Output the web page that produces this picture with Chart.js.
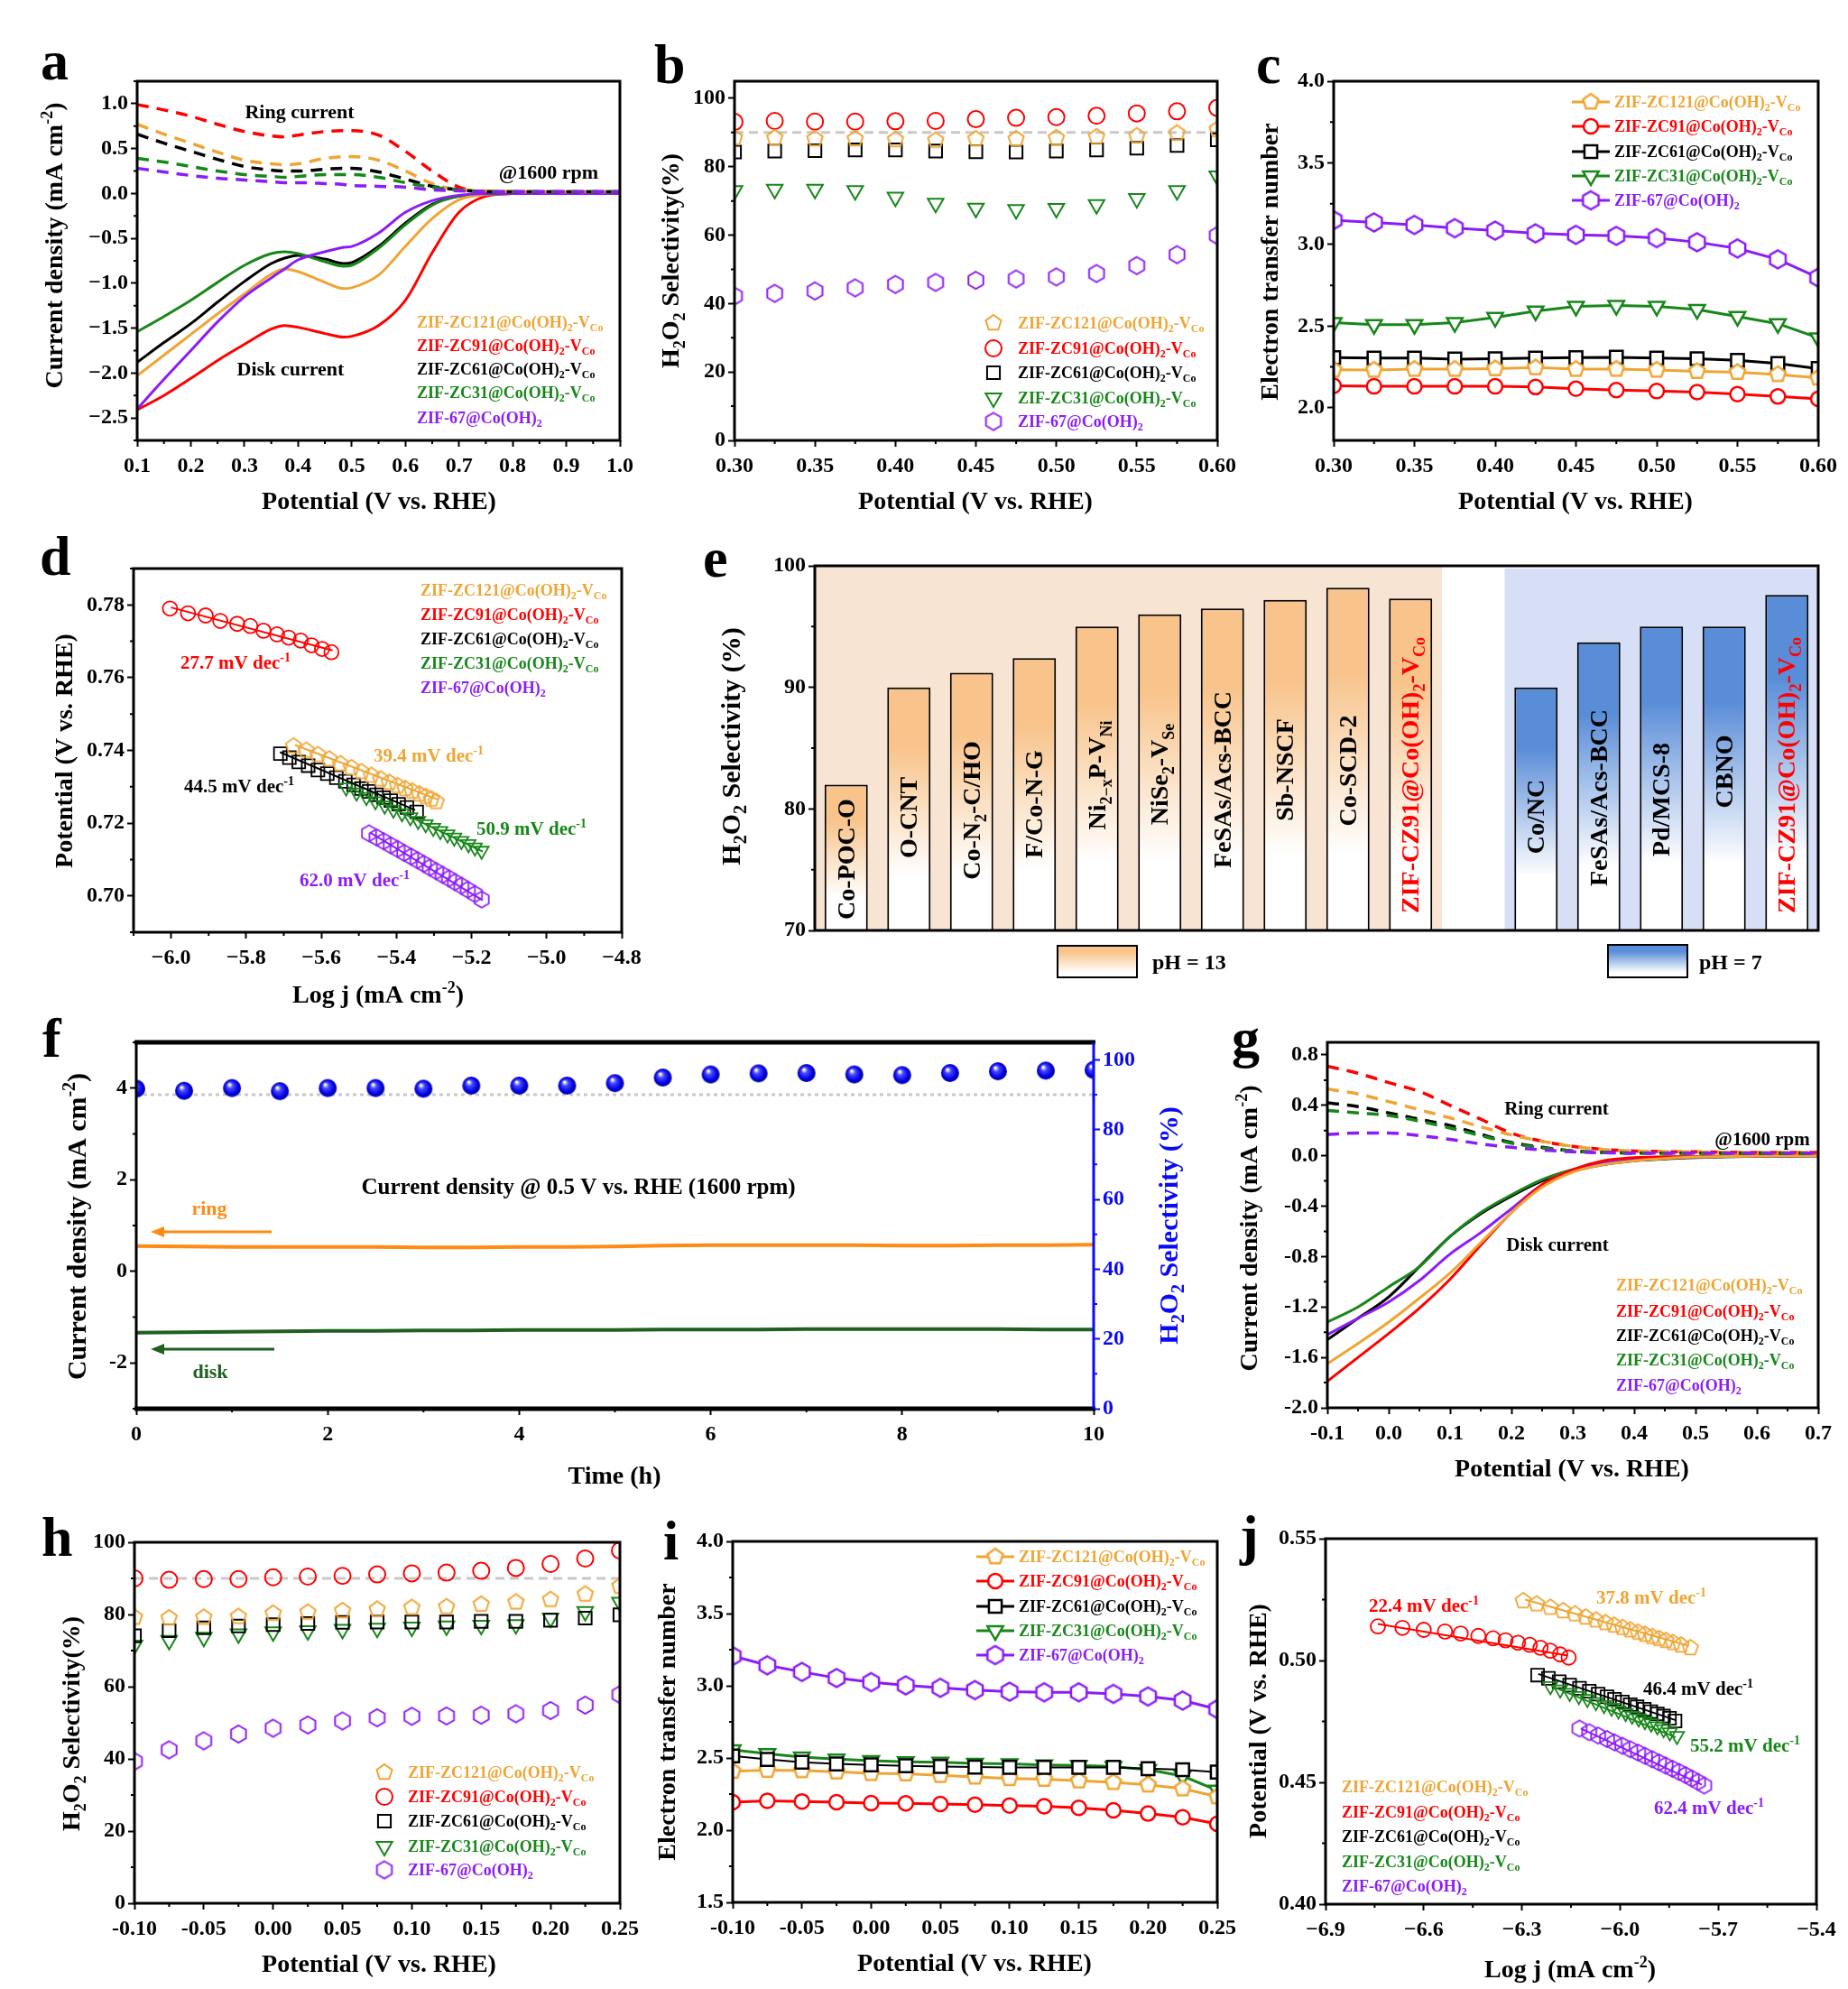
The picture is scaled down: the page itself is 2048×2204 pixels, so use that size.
<!DOCTYPE html>
<html>
<head>
<meta charset="utf-8">
<script src="https://cdn.jsdelivr.net/npm/chart.js@4.4.1/dist/chart.umd.min.js"></script>
<style>
  html,body{margin:0;padding:0;background:#fff;}
  #page{position:relative;width:2048px;height:2204px;overflow:hidden;background:#fff;}
  #page canvas{position:absolute;}
</style>
</head>
<body>
<div id="page"></div>
<script>
// ---------- series names (shared by all panels) ----------
const seriesNames = ['ZIF-ZC121@Co(OH)_2-V_{Co}','ZIF-ZC91@Co(OH)_2-V_{Co}','ZIF-ZC61@Co(OH)_2-V_{Co}','ZIF-ZC31@Co(OH)_2-V_{Co}','ZIF-67@Co(OH)_2'];

// ---------- a: RRDE curves, alkaline ----------
const aPotential = [0.1,0.15,0.2,0.25,0.3,0.35,0.375,0.4,0.45,0.485,0.5,0.55,0.6,0.65,0.7,0.75,0.8,0.9,1.0];
const aDisk121 = [-2.03,-1.80,-1.57,-1.34,-1.12,-0.90,-0.84,-0.87,-0.99,-1.06,-1.05,-0.91,-0.59,-0.28,-0.07,-0.01,0,0,0];
const aDisk91  = [-2.41,-2.25,-2.06,-1.86,-1.68,-1.51,-1.47,-1.49,-1.56,-1.60,-1.59,-1.47,-1.19,-0.66,-0.21,-0.03,0,0,0];
const aDisk61  = [-1.88,-1.66,-1.45,-1.21,-0.98,-0.78,-0.72,-0.69,-0.73,-0.78,-0.77,-0.59,-0.33,-0.12,-0.03,-0.01,0,0,0];
const aDisk31  = [-1.54,-1.37,-1.19,-0.99,-0.80,-0.67,-0.65,-0.67,-0.76,-0.81,-0.80,-0.61,-0.35,-0.13,-0.03,-0.01,0,0,0];
const aDisk67  = [-2.40,-2.07,-1.75,-1.43,-1.15,-0.94,-0.84,-0.74,-0.65,-0.60,-0.59,-0.44,-0.21,-0.08,-0.02,0,0,0,0];
const aRing121 = [0.77,0.66,0.56,0.46,0.37,0.33,0.32,0.33,0.39,0.41,0.41,0.37,0.25,0.11,0.04,0.03,0.02,0.02,0.02];
const aRing91  = [0.99,0.93,0.86,0.77,0.69,0.64,0.63,0.65,0.69,0.70,0.70,0.65,0.47,0.25,0.07,0.02,0.02,0.02,0.02];
const aRing61  = [0.66,0.56,0.47,0.38,0.30,0.26,0.25,0.25,0.27,0.28,0.28,0.24,0.16,0.08,0.04,0.02,0.02,0.02,0.02];
const aRing31  = [0.39,0.35,0.30,0.25,0.21,0.19,0.18,0.19,0.21,0.21,0.21,0.18,0.12,0.07,0.04,0.02,0.02,0.02,0.02];
const aRing67  = [0.28,0.24,0.20,0.17,0.15,0.13,0.12,0.12,0.11,0.10,0.09,0.08,0.07,0.04,0.03,0.02,0.02,0.02,0.02];
const aXTicks = [0.1,0.2,0.3,0.4,0.5,0.6,0.7,0.8,0.9,1.0];
const aYTicks = [-2.5,-2.0,-1.5,-1.0,-0.5,0.0,0.5,1.0];

// ---------- b: H2O2 selectivity, alkaline ----------
const bPotential = [0.3,0.325,0.35,0.375,0.4,0.425,0.45,0.475,0.5,0.525,0.55,0.575,0.6];
const bSel121 = [88.4,88.4,88.1,88.1,87.9,87.7,88.1,88.1,88.4,88.7,89.0,89.8,90.9];
const bSel91  = [93.1,93.4,93.2,93.2,93.3,93.4,93.9,94.3,94.5,94.9,95.6,96.2,97.2];
const bSel61  = [84.3,84.6,84.7,84.9,84.9,84.6,84.4,84.3,84.6,84.9,85.4,86.2,87.9];
const bSel31  = [73.0,73.4,73.4,73.0,71.1,69.3,67.9,67.5,67.8,68.9,70.7,73.0,77.3];
const bSel67  = [42.2,43.0,43.7,44.6,45.6,46.2,46.8,47.2,47.8,48.8,51.1,54.3,59.9];
const bXTicks = [0.30,0.35,0.40,0.45,0.50,0.55,0.60];
const bYTicks = [0,20,40,60,80,100];

// ---------- c: electron transfer number, alkaline ----------
const cPotential = [0.3,0.325,0.35,0.375,0.4,0.425,0.45,0.475,0.5,0.525,0.55,0.575,0.6];
const cN121 = [2.232,2.231,2.236,2.236,2.240,2.246,2.236,2.236,2.231,2.223,2.217,2.204,2.183];
const cN91  = [2.134,2.131,2.131,2.131,2.131,2.127,2.117,2.108,2.102,2.096,2.083,2.069,2.054];
const cN61  = [2.307,2.304,2.304,2.298,2.300,2.304,2.307,2.309,2.304,2.300,2.290,2.271,2.240];
const cN31  = [2.521,2.509,2.509,2.521,2.553,2.592,2.621,2.626,2.621,2.601,2.559,2.515,2.428];
const cN67  = [3.149,3.135,3.120,3.100,3.085,3.068,3.059,3.053,3.039,3.014,2.976,2.909,2.797];
const cXTicks = [0.30,0.35,0.40,0.45,0.50,0.55,0.60];
const cYTicks = [2.0,2.5,3.0,3.5,4.0];

// ---------- d: Tafel, alkaline ----------
const dLogJ121 = [-5.674,-5.640,-5.609,-5.579,-5.549,-5.520,-5.493,-5.467,-5.442,-5.419,-5.397,-5.377,-5.358,-5.339,-5.322,-5.307,-5.294];
const dE121    = [0.7412,0.7400,0.7388,0.7376,0.7363,0.7352,0.7341,0.7331,0.7321,0.7312,0.7303,0.7295,0.7288,0.7280,0.7273,0.7266,0.7259];
const dLogJ91  = [-6.003,-5.955,-5.908,-5.869,-5.824,-5.789,-5.754,-5.718,-5.687,-5.655,-5.626,-5.598,-5.573];
const dE91     = [0.7790,0.7777,0.7771,0.7756,0.7748,0.7742,0.7729,0.7719,0.7710,0.7702,0.7689,0.7679,0.7670];
const dLogJ61  = [-5.709,-5.685,-5.660,-5.635,-5.609,-5.584,-5.560,-5.536,-5.514,-5.493,-5.473,-5.453,-5.434,-5.415,-5.394,-5.372,-5.346];
const dE61     = [0.7391,0.7380,0.7368,0.7358,0.7346,0.7336,0.7325,0.7315,0.7305,0.7295,0.7287,0.7278,0.7270,0.7262,0.7252,0.7243,0.7231];
const dLogJ31  = [-5.534,-5.506,-5.480,-5.456,-5.431,-5.408,-5.385,-5.363,-5.342,-5.322,-5.302,-5.283,-5.264,-5.246,-5.227,-5.208,-5.191,-5.173];
const dE31     = [0.7298,0.7284,0.7272,0.7260,0.7248,0.7237,0.7227,0.7216,0.7206,0.7197,0.7187,0.7178,0.7169,0.7160,0.7151,0.7142,0.7133,0.7124];
const dLogJ67  = [-5.473,-5.453,-5.434,-5.415,-5.397,-5.379,-5.361,-5.344,-5.327,-5.311,-5.294,-5.277,-5.260,-5.244,-5.227,-5.210,-5.191,-5.173];
const dE67     = [0.7172,0.7161,0.7150,0.7139,0.7129,0.7118,0.7108,0.7098,0.7088,0.7078,0.7068,0.7058,0.7048,0.7038,0.7028,0.7017,0.7005,0.6990];
const dFitX121 = [-5.67,-5.29], dFitY121 = [0.7415,0.7265];
const dFitX91  = [-6.00,-5.57], dFitY91  = [0.7793,0.7675];
const dFitX61  = [-5.71,-5.35], dFitY61  = [0.7395,0.7236];
const dFitX31  = [-5.53,-5.17], dFitY31  = [0.7300,0.7122];
const dFitX67  = [-5.47,-5.17], dFitY67  = [0.7174,0.6988];
const dSlopes  = ['39.4 mV dec^{-1}','27.7 mV dec^{-1}','44.5 mV dec^{-1}','50.9 mV dec^{-1}','62.0 mV dec^{-1}'];
const dXTicks = [-6.0,-5.8,-5.6,-5.4,-5.2,-5.0,-4.8];
const dYTicks = [0.70,0.72,0.74,0.76,0.78];

// ---------- e: literature comparison ----------
const eCatalysts13 = ['Co-POC-O','O-CNT','Co-N_2-C/HO','F/Co-N-G','Ni_{2−x}P-V_{Ni}','NiSe_2-V_{Se}','FeSAs/Acs-BCC','Sb-NSCF','Co-SCD-2','ZIF-CZ91@Co(OH)_2-V_{Co}'];
const eSel13       = [82.0,90.0,91.2,92.4,95.0,96.0,96.5,97.2,98.2,97.3];
const eCatalysts7  = ['Co/NC','FeSAs/Acs-BCC','Pd/MCS-8','CBNO','ZIF-CZ91@Co(OH)_2-V_{Co}'];
const eSel7        = [90.0,93.7,95.0,95.0,97.6];
const eYTicks = [70,80,90,100];

// ---------- f: stability ----------
const fTime = [0,0.5,1,1.5,2,2.5,3,3.5,4,4.5,5,5.5,6,6.5,7,7.5,8,8.5,9,9.5,10];
const fSel  = [91.7,91.1,91.9,91.0,91.9,91.9,91.7,92.6,92.6,92.6,93.3,94.9,95.8,96.1,96.2,95.8,95.6,96.2,96.7,96.9,97.1];
const fRing = [0.55,0.54,0.53,0.53,0.53,0.53,0.52,0.52,0.53,0.53,0.54,0.56,0.57,0.57,0.57,0.57,0.56,0.56,0.57,0.57,0.58];
const fDisk = [-1.34,-1.33,-1.32,-1.31,-1.30,-1.30,-1.29,-1.29,-1.28,-1.28,-1.28,-1.27,-1.27,-1.27,-1.26,-1.26,-1.26,-1.26,-1.26,-1.27,-1.27];
const fXTicks = [0,2,4,6,8,10];
const fYTicks = [-2,0,2,4];
const fY2Ticks = [0,20,40,60,80,100];

// ---------- g: RRDE curves, neutral ----------
const gPotential = [-0.1,-0.05,0,0.05,0.1,0.15,0.2,0.25,0.3,0.35,0.4,0.45,0.5,0.55,0.6,0.65,0.7];
const gDisk121 = [-1.65,-1.49,-1.32,-1.13,-0.93,-0.69,-0.45,-0.25,-0.13,-0.07,-0.04,-0.022,-0.01,-0.006,-0.003,-0.001,0];
const gDisk91  = [-1.79,-1.60,-1.41,-1.21,-0.98,-0.71,-0.45,-0.23,-0.11,-0.04,-0.015,-0.008,-0.005,-0.003,-0.001,0,0];
const gDisk61  = [-1.46,-1.29,-1.12,-0.88,-0.64,-0.46,-0.32,-0.20,-0.12,-0.07,-0.04,-0.025,-0.015,-0.008,-0.005,-0.002,0];
const gDisk31  = [-1.32,-1.20,-1.04,-0.88,-0.64,-0.45,-0.31,-0.19,-0.11,-0.06,-0.034,-0.02,-0.012,-0.007,-0.004,-0.002,0];
const gDisk67  = [-1.42,-1.29,-1.16,-0.99,-0.78,-0.61,-0.42,-0.23,-0.12,-0.06,-0.03,-0.018,-0.01,-0.006,-0.003,-0.001,0];
const gRing121 = [0.53,0.49,0.43,0.365,0.30,0.23,0.165,0.115,0.075,0.05,0.038,0.033,0.031,0.028,0.026,0.026,0.026];
const gRing91  = [0.71,0.655,0.58,0.51,0.40,0.29,0.18,0.115,0.075,0.05,0.038,0.033,0.031,0.028,0.026,0.026,0.026];
const gRing61  = [0.42,0.39,0.34,0.29,0.24,0.17,0.105,0.067,0.038,0.026,0.021,0.021,0.021,0.021,0.021,0.021,0.021];
const gRing31  = [0.36,0.34,0.32,0.275,0.22,0.16,0.10,0.063,0.038,0.026,0.021,0.021,0.021,0.021,0.021,0.021,0.021];
const gRing67  = [0.17,0.18,0.18,0.16,0.13,0.094,0.067,0.046,0.031,0.024,0.021,0.021,0.021,0.021,0.021,0.021,0.021];
const gXTicks = [-0.1,0.0,0.1,0.2,0.3,0.4,0.5,0.6,0.7];
const gYTicks = [-2.0,-1.6,-1.2,-0.8,-0.4,0.0,0.4,0.8];

// ---------- h: H2O2 selectivity, neutral ----------
const hPotential = [-0.1,-0.075,-0.05,-0.025,0,0.025,0.05,0.075,0.1,0.125,0.15,0.175,0.2,0.225,0.25];
const hSel121 = [79.2,79.0,79.2,79.4,80.3,80.6,81.0,81.4,81.9,82.1,82.8,83.4,84.1,85.6,87.8];
const hSel91  = [90.0,89.6,89.8,89.8,90.3,90.5,90.7,91.1,91.4,91.6,92.1,92.9,94.0,95.5,97.7];
const hSel61  = [74.1,75.5,76.3,76.8,77.2,77.5,77.8,77.9,77.9,77.9,78.1,78.1,78.4,79.0,79.9];
const hSel31  = [71.5,72.8,73.7,74.6,75.2,75.5,75.9,76.2,76.5,76.8,77.0,77.2,79.0,80.8,83.4];
const hSel67  = [39.3,42.5,45.0,46.9,48.5,49.4,50.5,51.4,51.8,51.9,52.1,52.5,53.4,54.9,57.8];
const hXTicks = [-0.10,-0.05,0.00,0.05,0.10,0.15,0.20,0.25];
const hYTicks = [0,20,40,60,80,100];

// ---------- i: electron transfer number, neutral ----------
const iPotential = [-0.1,-0.075,-0.05,-0.025,0,0.025,0.05,0.075,0.1,0.125,0.15,0.175,0.2,0.225,0.25];
const iN121 = [2.408,2.415,2.413,2.404,2.393,2.391,2.380,2.369,2.358,2.353,2.342,2.331,2.314,2.287,2.232];
const iN91  = [2.194,2.203,2.199,2.194,2.188,2.186,2.181,2.177,2.170,2.166,2.155,2.137,2.115,2.089,2.044];
const iN61  = [2.514,2.490,2.470,2.459,2.452,2.446,2.441,2.437,2.435,2.435,2.435,2.435,2.426,2.419,2.402];
const iN31  = [2.556,2.530,2.507,2.492,2.481,2.474,2.470,2.463,2.459,2.452,2.448,2.441,2.419,2.375,2.276];
const iN67  = [3.206,3.142,3.096,3.054,3.025,3.003,2.986,2.970,2.959,2.955,2.955,2.944,2.926,2.898,2.838];
const iXTicks = [-0.10,-0.05,0.00,0.05,0.10,0.15,0.20,0.25];
const iYTicks = [1.5,2.0,2.5,3.0,3.5,4.0];

// ---------- j: Tafel, neutral ----------
const jLogJ121 = [-6.296,-6.255,-6.213,-6.174,-6.138,-6.105,-6.074,-6.045,-6.019,-5.993,-5.969,-5.945,-5.924,-5.902,-5.881,-5.860,-5.838,-5.814,-5.785];
const jE121    = [0.5245,0.5232,0.5218,0.5204,0.5191,0.5178,0.5166,0.5155,0.5145,0.5135,0.5125,0.5116,0.5107,0.5098,0.5090,0.5082,0.5073,0.5063,0.5052];
const jLogJ91  = [-6.740,-6.665,-6.600,-6.535,-6.487,-6.433,-6.388,-6.350,-6.312,-6.276,-6.243,-6.213,-6.183,-6.157];
const jE91     = [0.5140,0.5134,0.5126,0.5119,0.5111,0.5101,0.5091,0.5083,0.5073,0.5064,0.5052,0.5040,0.5025,0.5012];
const jLogJ61  = [-6.252,-6.219,-6.186,-6.154,-6.124,-6.094,-6.067,-6.040,-6.017,-5.993,-5.969,-5.948,-5.926,-5.906,-5.886,-5.867,-5.849,-5.832];
const jE61     = [0.4940,0.4927,0.4913,0.4899,0.4886,0.4874,0.4862,0.4851,0.4841,0.4830,0.4819,0.4810,0.4800,0.4790,0.4781,0.4772,0.4763,0.4752];
const jLogJ31  = [-6.213,-6.183,-6.154,-6.126,-6.100,-6.074,-6.049,-6.026,-6.005,-5.983,-5.963,-5.943,-5.924,-5.905,-5.886,-5.867,-5.848,-5.826];
const jE31     = [0.4895,0.4881,0.4867,0.4854,0.4842,0.4829,0.4817,0.4806,0.4795,0.4784,0.4773,0.4762,0.4751,0.4741,0.4730,0.4718,0.4705,0.4690];
const jLogJ67  = [-6.124,-6.094,-6.067,-6.040,-6.017,-5.993,-5.969,-5.945,-5.924,-5.902,-5.881,-5.861,-5.840,-5.820,-5.800,-5.781,-5.762,-5.743];
const jE67     = [0.4721,0.4706,0.4692,0.4678,0.4664,0.4650,0.4636,0.4622,0.4609,0.4595,0.4582,0.4569,0.4556,0.4543,0.4530,0.4516,0.4502,0.4487];
const jFitX121 = [-6.29,-5.79], jFitY121 = [0.5250,0.5060];
const jFitX91  = [-6.74,-6.16], jFitY91  = [0.5150,0.5020];
const jFitX61  = [-6.25,-5.83], jFitY61  = [0.4945,0.4755];
const jFitX31  = [-6.21,-5.83], jFitY31  = [0.4895,0.4685];
const jFitX67  = [-6.12,-5.75], jFitY67  = [0.4721,0.4490];
const jSlopes  = ['37.8 mV dec^{-1}','22.4 mV dec^{-1}','46.4 mV dec^{-1}','55.2 mV dec^{-1}','62.4 mV dec^{-1}'];
const jXTicks = [-6.9,-6.6,-6.3,-6.0,-5.7,-5.4];
const jYTicks = [0.40,0.45,0.50,0.55];

// ---------- styles ----------
const SERIF = '"Liberation Serif","Times New Roman",serif';
const C121='#EFA534', C91='#FF0000', C61='#000000', C31='#17871A', C67='#8B1CF7';
const seriesColors = [C121,C91,C61,C31,C67];
const DASH = [13,9];
const F_RING='#FF8A14', F_DISK='#1F5F1F', BLUE='#0A0AF5';
const E13_TOP='#F8C48C', E13_BG='#F8E4D3', E7_TOP='#5A8DD8', E7_BG='#D6DFF5';
// vertical centre (page px) of each rotated bar label in panel e, gap slot included
const eLabelMid = [952,906,898,891,859,858,864,853,854,859,0,905,884,886,855,859];
const page = document.getElementById('page');

// ---------- rich text (sub/superscripts) ----------
function parseRich(s){
  const out=[]; let i=0, buf='';
  const push=(t,m)=>{ if(t) out.push({t,m}); };
  while(i<s.length){
    const c=s[i];
    if((c==='_'||c==='^') && i+1<s.length){
      push(buf,0); buf='';
      const m = c==='_'?1:2;
      if(s[i+1]==='{'){ const j=s.indexOf('}',i+2); push(s.slice(i+2,j),m); i=j+1; }
      else { push(s[i+1],m); i+=2; }
    } else { buf+=c; i++; }
  }
  push(buf,0);
  return out;
}
function drawRich(ctx,s,x,y,o){
  const size=o.size||20, wt=o.weight||'bold';
  const parts=parseRich(s);
  const fontOf=m=>`${wt} ${m?Math.round(size*0.65):size}px ${SERIF}`;
  let w=0;
  parts.forEach(p=>{ ctx.font=fontOf(p.m); p.w=ctx.measureText(p.t).width; w+=p.w; });
  let cx = o.align==='center'? x-w/2 : (o.align==='right'? x-w : x);
  const base = o.base? y : y+size*0.33;
  ctx.fillStyle=o.color||'#000'; ctx.textAlign='left'; ctx.textBaseline='alphabetic';
  parts.forEach(p=>{
    ctx.font=fontOf(p.m);
    const dy = p.m===1? size*0.24 : (p.m===2? -size*0.4 : 0);
    ctx.fillText(p.t,cx,base+dy); cx+=p.w;
  });
  return w;
}

// ---------- markers ----------
function polyImg(n,r,color,fill,lw){
  const s=Math.ceil(2*r+lw+2), c=document.createElement('canvas'); c.width=c.height=s;
  const g=c.getContext('2d'); g.beginPath();
  for(let k=0;k<n;k++){ const a=-Math.PI/2+k*2*Math.PI/n; const px=s/2+r*Math.cos(a), py=s/2+r*Math.sin(a); k?g.lineTo(px,py):g.moveTo(px,py); }
  g.closePath();
  if(fill){ g.fillStyle=fill; g.fill(); }
  g.strokeStyle=color; g.lineWidth=lw; g.stroke();
  return c;
}
function sphereImg(r){
  const s=2*r+2, c=document.createElement('canvas'); c.width=c.height=s;
  const g=c.getContext('2d');
  const gr=g.createRadialGradient(s/2-r*0.3,s/2-r*0.4,r*0.08,s/2,s/2,r);
  gr.addColorStop(0,'#ffffff'); gr.addColorStop(0.28,'#4a4aff'); gr.addColorStop(0.75,'#0000e6'); gr.addColorStop(1,'#00009a');
  g.fillStyle=gr; g.beginPath(); g.arc(s/2,s/2,r,0,Math.PI*2); g.fill();
  return c;
}
function marker(kind,color,r,fill,lw){
  const m={kind,color,r,fill:fill||'rgba(0,0,0,0)',lw:lw||2};
  if(kind==='pent') m.img=polyImg(5,r,color,fill,m.lw);
  if(kind==='hex') m.img=polyImg(6,r,color,fill,m.lw);
  return m;
}
function markerSet(rs,fill,lw){
  const kinds=['pent','circle','square','tri','hex'];
  return kinds.map((k,i)=>marker(k,seriesColors[i],rs[i],fill,lw));
}
function pointOpts(m){
  const o={pointRadius:m.r,pointBorderColor:m.color,pointBackgroundColor:m.fill,pointBorderWidth:m.lw,pointRotation:0};
  if(m.img) o.pointStyle=m.img;
  else if(m.kind==='square') o.pointStyle='rect';
  else if(m.kind==='tri'){ o.pointStyle='triangle'; o.pointRotation=180; }
  else o.pointStyle='circle';
  return o;
}
function drawMarker(ctx,m,x,y){
  if(m.img){ ctx.drawImage(m.img,x-m.img.width/2,y-m.img.height/2); return; }
  ctx.beginPath();
  if(m.kind==='circle') ctx.arc(x,y,m.r,0,Math.PI*2);
  else if(m.kind==='square'){ const h=m.r*Math.SQRT1_2; ctx.rect(x-h,y-h,2*h,2*h); }
  else if(m.kind==='tri'){ const r=m.r; ctx.moveTo(x,y+r); ctx.lineTo(x-r*0.866,y-r/2); ctx.lineTo(x+r*0.866,y-r/2); ctx.closePath(); }
  ctx.fillStyle=m.fill; ctx.fill(); ctx.strokeStyle=m.color; ctx.lineWidth=m.lw; ctx.stroke();
}

// ---------- datasets ----------
const xy=(xs,ys)=>xs.map((x,i)=>({x,y:ys[i]}));
function curveDs(xs,ys,color,dash,lw){
  return {data:xy(xs,ys),showLine:true,borderColor:color,borderWidth:lw||3,borderDash:dash||[],pointRadius:0,cubicInterpolationMode:'monotone',clip:0};
}
function markDs(xs,ys,m,lineW){
  return Object.assign({data:xy(xs,ys),showLine:!!lineW,borderColor:m.color,borderWidth:lineW||0,clip:0},pointOpts(m));
}
function fitDs(xs,ys,color){
  return {data:xy(xs,ys),showLine:true,borderColor:color,borderWidth:2,pointRadius:0,order:0};
}

// ---------- axes ----------
function fmt(v,dec,minus){ const s=Math.abs(v).toFixed(dec); return (v< -1e-9?(minus||'−'):'')+s; }
function axisOpts(a,pos,size){
  const col=a.color||'#000', cat=a.type==='category';
  const o={
    type:a.type||'linear', position:pos,
    afterFit:s=>{ if(pos==='bottom') s.height=size; else s.width=size; },
    ticks:{display:!cat,color:col,padding:pos==='bottom'?7:3,maxRotation:0,minRotation:0,autoSkip:false,
      font:{family:SERIF,size:24,weight:'bold'},callback:v=>fmt(v,a.dec,a.minus)},
    grid:{display:!cat,drawOnChartArea:false,drawTicks:true,tickLength:7,tickWidth:2,color:col},
    border:{display:false}
  };
  if(!cat){ o.min=a.min; o.max=a.max; o.afterBuildTicks=s=>{ s.ticks=a.ticks.map(v=>({value:v})); }; }
  return o;
}
function minorTicks(ctx,s,col){
  const t=s.ticks.map(k=>k.value); if(t.length<2) return;
  const step=t[1]-t[0];
  ctx.strokeStyle=col; ctx.lineWidth=2; ctx.beginPath();
  for(let v=t[0]-step/2; v<=s.max+1e-9; v+=step){
    if(v<s.min-1e-9) continue;
    const p=s.getPixelForValue(v);
    if(s.isHorizontal()){ ctx.moveTo(p,s.top); ctx.lineTo(p,s.top+4); }
    else if(s.position==='left'){ ctx.moveTo(s.right,p); ctx.lineTo(s.right-4,p); }
    else { ctx.moveTo(s.left,p); ctx.lineTo(s.left+4,p); }
  }
  ctx.stroke();
}

// ---------- decorations ----------
function drawLegend(ctx,lg,bx,by){
  lg.ys.forEach((y,i)=>{
    const yy=y-by, col=seriesColors[i];
    if(lg.mode==='line'){ ctx.strokeStyle=col; ctx.lineWidth=3; ctx.beginPath(); ctx.moveTo(lg.mx-21-bx,yy); ctx.lineTo(lg.mx+21-bx,yy); ctx.stroke(); }
    if(lg.markers) drawMarker(ctx,lg.markers[i],lg.mx-bx,yy);
    drawRich(ctx,seriesNames[i],lg.tx-bx,yy,{size:lg.size||18,color:col,align:'left'});
  });
}
function drawDecor(ch,p,bx,by){
  const ctx=ch.ctx, a=ch.chartArea;
  ctx.save();
  if(p.after) p.after(ch,ctx,bx,by);
  if(p.frame==='f'){
    ctx.strokeStyle='#000'; ctx.lineWidth=5; ctx.beginPath();
    ctx.moveTo(a.left-2,a.top); ctx.lineTo(a.right+2,a.top); ctx.moveTo(a.left-2,a.bottom); ctx.lineTo(a.right+2,a.bottom); ctx.stroke();
    ctx.lineWidth=3; ctx.beginPath(); ctx.moveTo(a.left,a.top); ctx.lineTo(a.left,a.bottom); ctx.stroke();
    ctx.strokeStyle=BLUE; ctx.beginPath(); ctx.moveTo(a.right,a.top); ctx.lineTo(a.right,a.bottom); ctx.stroke();
  } else {
    ctx.strokeStyle='#000'; ctx.lineWidth=3; ctx.strokeRect(a.left,a.top,a.right-a.left,a.bottom-a.top);
  }
  ['x','y','y2'].forEach(id=>{ const s=ch.scales[id], c=p[id]; if(!s||!c||c.type==='category') return; minorTicks(ctx,s,c.color||'#000'); });
  (p.texts||[]).forEach(t=>{
    const x=t.x-bx, y=t.y-by;
    if(t.rot){ ctx.save(); ctx.translate(x,y); ctx.rotate(-Math.PI/2); drawRich(ctx,t.t,0,0,{size:t.size,color:t.color,align:'center'}); ctx.restore(); }
    else drawRich(ctx,t.t,x,y,{size:t.size,color:t.color,align:t.align||'center',base:t.base});
  });
  if(p.legend) drawLegend(ctx,p.legend,bx,by);
  ctx.restore();
}
const letter=(t,x,y)=>({t,x,y,size:62,align:'left',base:true});
const xTitle=(t,x,y,size)=>({t,x,y,size:size||28});
const yTitle=(t,x,y,size,color)=>({t,x,y,size:size||28,rot:true,color});
const note=(t,x,y,color,size)=>({t,x,y,color,size:size||22});

function makePanel(p){
  const [bx,by,bw,bh]=p.box, [l,t,r,b]=p.area;
  const cv=document.createElement('canvas');
  cv.width=bw; cv.height=bh;
  Object.assign(cv.style,{left:bx+'px',top:by+'px',width:bw+'px',height:bh+'px'});
  page.appendChild(cv);
  const scales={x:axisOpts(p.x,'bottom',by+bh-b), y:axisOpts(p.y,'left',l-bx)};
  if(p.y2) scales.y2=axisOpts(p.y2,'right',bx+bw-r);
  const decor={id:'decor',
    beforeDatasetsDraw(ch){ if(p.under){ ch.ctx.save(); p.under(ch,ch.ctx); ch.ctx.restore(); } },
    afterDatasetsDraw(ch){ drawDecor(ch,p,bx,by); }
  };
  return new Chart(cv,{type:p.type||'scatter',data:{labels:p.labels,datasets:p.datasets},
    options:{responsive:false,animation:false,devicePixelRatio:1,events:[],
      layout:{autoPadding:false,padding:{left:0,top:t-by,right:p.y2?0:bx+bw-r,bottom:0}},
      scales,plugins:{legend:{display:false},tooltip:{enabled:false}}},
    plugins:[decor]});
}
function refLine(value,dash,axisId){
  return (ch,ctx)=>{ const a=ch.chartArea, yy=ch.scales[axisId||'y'].getPixelForValue(value);
    ctx.setLineDash(dash); ctx.strokeStyle='#C8C8C8'; ctx.lineWidth=3; ctx.beginPath(); ctx.moveTo(a.left,yy); ctx.lineTo(a.right,yy); ctx.stroke(); };
}

// ================= panel a =================
makePanel({
  box:[0,0,730,580], area:[152,90,687,488],
  x:{min:0.1,max:1.0,ticks:aXTicks,dec:1}, y:{min:-2.75,max:1.25,ticks:aYTicks,dec:1,minus:'−'},
  datasets:[
    curveDs(aPotential,aRing67,C67,DASH,3.5), curveDs(aPotential,aRing31,C31,DASH,3.5), curveDs(aPotential,aRing61,C61,DASH,3.5),
    curveDs(aPotential,aRing121,C121,DASH,3.5), curveDs(aPotential,aRing91,C91,DASH,3.5),
    curveDs(aPotential,aDisk67,C67), curveDs(aPotential,aDisk121,C121), curveDs(aPotential,aDisk31,C31),
    curveDs(aPotential,aDisk61,C61), curveDs(aPotential,aDisk91,C91)
  ],
  texts:[letter('a',45,88), xTitle('Potential (V vs. RHE)',420,555), yTitle('Current density (mA cm^{-2})',60,272),
    note('Ring current',332,124), note('@1600 rpm',608,191), note('Disk current',322,409)],
  legend:{mode:'text',tx:462,ys:[357,383,409,435,463]}
});

// ================= panel b =================
const bM=markerSet([9,9,10,10,9.5],null,2);
makePanel({
  box:[690,0,700,580], area:[814,90,1349,488],
  x:{min:0.3,max:0.6,ticks:bXTicks,dec:2}, y:{min:0,max:105,ticks:bYTicks,dec:0},
  datasets:[markDs(bPotential,bSel121,bM[0]), markDs(bPotential,bSel91,bM[1]), markDs(bPotential,bSel61,bM[2]), markDs(bPotential,bSel31,bM[3]), markDs(bPotential,bSel67,bM[4])],
  under:refLine(90,[10,6]),
  texts:[letter('b',725,92), xTitle('Potential (V vs. RHE)',1081,555), yTitle('H_2O_2 Selectivity(%)',743,289)],
  legend:{mode:'marker',mx:1101,tx:1128,ys:[358,386,413,441,467],markers:bM}
});

// ================= panel c =================
const cM=markerSet([9,8,10,10,10],'#ffffff',2.5);
makePanel({
  box:[1360,0,688,580], area:[1478,90,2015,488],
  x:{min:0.3,max:0.6,ticks:cXTicks,dec:2}, y:{min:1.8,max:4.0,ticks:cYTicks,dec:1},
  datasets:[markDs(cPotential,cN121,cM[0],3), markDs(cPotential,cN91,cM[1],3), markDs(cPotential,cN61,cM[2],3), markDs(cPotential,cN31,cM[3],3), markDs(cPotential,cN67,cM[4],3)],
  texts:[letter('c',1392,92), xTitle('Potential (V vs. RHE)',1746,555), yTitle('Electron transfer number',1407,290)],
  legend:{mode:'line',mx:1763,tx:1789,ys:[113,140,168,195,222],markers:cM}
});

// ================= panel d =================
const dM=markerSet([9,8,10,9,9],null,1.8);
makePanel({
  box:[0,580,735,540], area:[148,630,689,1033],
  x:{min:-6.1,max:-4.8,ticks:dXTicks,dec:1,minus:'−'}, y:{min:0.69,max:0.79,ticks:dYTicks,dec:2},
  datasets:[
    fitDs(dFitX121,dFitY121,C121), fitDs(dFitX91,dFitY91,C91), fitDs(dFitX61,dFitY61,C61), fitDs(dFitX31,dFitY31,C31), fitDs(dFitX67,dFitY67,C67),
    Object.assign(markDs(dLogJ121,dE121,dM[0]),{order:1}), Object.assign(markDs(dLogJ91,dE91,dM[1]),{order:1}),
    Object.assign(markDs(dLogJ31,dE31,dM[3]),{order:1}), Object.assign(markDs(dLogJ61,dE61,dM[2]),{order:1}),
    Object.assign(markDs(dLogJ67,dE67,dM[4]),{order:1})
  ],
  texts:[letter('d',44,637), xTitle('Log j (mA cm^{-2})',419,1102), yTitle('Potential (V vs. RHE)',71,832),
    note(dSlopes[1],261,734,C91,21), note(dSlopes[0],475,837,C121,21), note(dSlopes[2],265,871,C61,21),
    note(dSlopes[3],589,918,C31,21), note(dSlopes[4],393,975,C67,21)],
  legend:{mode:'text',tx:466,ys:[654,681,708,735,762]}
});

// ================= panel e =================
const eCategories = eCatalysts13.concat([''], eCatalysts7);
const eGap = eCatalysts13.length;
function barFill(c,top){
  const ch=c.chart, ys=ch.scales.y;
  if(!ys || c.raw==null) return top;
  const y0=ys.getPixelForValue(c.raw), y1=ys.getPixelForValue(ys.min);
  if(!isFinite(y0)||!isFinite(y1)||y1<=y0) return top;
  const g=ch.ctx.createLinearGradient(0,y0,0,y1);
  g.addColorStop(0,top); g.addColorStop(0.25,top); g.addColorStop(0.78,'#ffffff'); g.addColorStop(1,'#ffffff');
  return g;
}
function swatch(ctx,x,y,w,h,top){
  const g=ctx.createLinearGradient(0,y,0,y+h);
  g.addColorStop(0,top); g.addColorStop(0.2,top); g.addColorStop(0.85,'#ffffff'); g.addColorStop(1,'#ffffff');
  ctx.fillStyle=g; ctx.fillRect(x,y,w,h); ctx.strokeStyle='#000'; ctx.lineWidth=2; ctx.strokeRect(x,y,w,h);
}
makePanel({
  type:'bar', box:[730,580,1318,540], area:[903,627,2015,1031],
  labels:eCategories,
  x:{type:'category'}, y:{min:70,max:100,ticks:eYTicks,dec:0},
  datasets:[
    {data:eSel13.concat(Array(eCatalysts7.length+1).fill(null)),grouped:false,barPercentage:0.69,categoryPercentage:1,
      borderColor:'#000',borderWidth:2,borderSkipped:false,backgroundColor:c=>barFill(c,E13_TOP)},
    {data:Array(eGap+1).fill(null).concat(eSel7),grouped:false,barPercentage:0.69,categoryPercentage:1,
      borderColor:'#000',borderWidth:2,borderSkipped:false,backgroundColor:c=>barFill(c,E7_TOP)}
  ],
  under:(ch,ctx)=>{
    const a=ch.chartArea, xs=ch.scales.x;
    const m1=(xs.getPixelForValue(eGap-1)+xs.getPixelForValue(eGap))/2, m2=(xs.getPixelForValue(eGap)+xs.getPixelForValue(eGap+1))/2;
    ctx.fillStyle=E13_BG; ctx.fillRect(a.left,a.top,m1-a.left,a.bottom-a.top);
    ctx.fillStyle=E7_BG; ctx.fillRect(m2,a.top+3,a.right-m2,a.bottom-a.top-3);
  },
  after:(ch,ctx,bx,by)=>{
    const xs=ch.scales.x;
    eCategories.forEach((name,i)=>{
      if(!name) return;
      ctx.save(); ctx.translate(xs.getPixelForValue(i),eLabelMid[i]-by); ctx.rotate(-Math.PI/2);
      drawRich(ctx,name,0,0,{size:28,color:name.startsWith('ZIF')?'#FF0000':'#000',align:'center'});
      ctx.restore();
    });
    swatch(ctx,1172-bx,1048-by,88,35,E13_TOP);
    swatch(ctx,1782-bx,1047-by,88,36,E7_TOP);
  },
  texts:[letter('e',779,639), yTitle('H_2O_2 Selectivity (%)',810,827,30),
    {t:'pH = 13',x:1277,y:1066,size:24,align:'left'}, {t:'pH = 7',x:1883,y:1066,size:24,align:'left'}]
});

// ================= panel f =================
function arrow(ctx,xh,y,xt,col){
  ctx.strokeStyle=col; ctx.fillStyle=col; ctx.lineWidth=3;
  ctx.beginPath(); ctx.moveTo(xh+12,y); ctx.lineTo(xt,y); ctx.stroke();
  ctx.beginPath(); ctx.moveTo(xh,y); ctx.lineTo(xh+15,y-6); ctx.lineTo(xh+15,y+6); ctx.closePath(); ctx.fill();
}
const sphere=sphereImg(10);
makePanel({
  box:[0,1110,1340,545], area:[151,1155,1212,1561],
  x:{min:0,max:10,ticks:fXTicks,dec:0}, y:{min:-3,max:5,ticks:fYTicks,dec:0,minus:'-'},
  y2:{min:0,max:105,ticks:fY2Ticks,dec:0,color:BLUE},
  datasets:[
    {data:xy(fTime,fSel),yAxisID:'y2',showLine:false,pointStyle:sphere,pointRadius:10},
    Object.assign(curveDs(fTime,fRing,F_RING,null,4),{cubicInterpolationMode:'default',tension:0}),
    Object.assign(curveDs(fTime,fDisk,F_DISK,null,4),{cubicInterpolationMode:'default',tension:0})
  ],
  under:refLine(90,[4,4],'y2'),
  frame:'f',
  after:(ch,ctx,bx,by)=>{ arrow(ctx,167-bx,1365-by,301-bx,F_RING); arrow(ctx,167-bx,1495-by,304-bx,F_DISK); },
  texts:[letter('f',47,1171), xTitle('Time (h)',681,1635), yTitle('Current density (mA cm^{-2})',85,1359,30),
    yTitle('H_2O_2 Selectivity (%)',1295,1358,30,BLUE),
    note('Current density @ 0.5 V vs. RHE (1600 rpm)',641,1315,'#000',25),
    note('ring',232,1339,F_RING,22), note('disk',233,1520,F_DISK,22)]
});

// ================= panel g =================
makePanel({
  box:[1330,1110,718,545], area:[1471,1155,2015,1560],
  x:{min:-0.1,max:0.7,ticks:gXTicks,dec:1,minus:'-'}, y:{min:-2.0,max:0.9,ticks:gYTicks,dec:1,minus:'-'},
  datasets:[
    curveDs(gPotential,gRing67,C67,DASH,3.5), curveDs(gPotential,gRing31,C31,DASH,3.5), curveDs(gPotential,gRing61,C61,DASH,3.5),
    curveDs(gPotential,gRing121,C121,DASH,3.5), curveDs(gPotential,gRing91,C91,DASH,3.5),
    curveDs(gPotential,gDisk121,C121), curveDs(gPotential,gDisk91,C91), curveDs(gPotential,gDisk67,C67),
    curveDs(gPotential,gDisk31,C31), curveDs(gPotential,gDisk61,C61)
  ],
  texts:[letter('g',1365,1171), xTitle('Potential (V vs. RHE)',1742,1627), yTitle('Current density (mA cm^{-2})',1384,1361),
    note('Ring current',1725,1228,'#000',21), note('@1600 rpm',1953,1262,'#000',21), note('Disk current',1726,1379,'#000',21)],
  legend:{mode:'text',tx:1791,ys:[1424,1453,1480,1507,1535]}
});

// ================= panel h =================
const hM=markerSet([9,9,10,10,9.5],null,2);
makePanel({
  box:[0,1640,735,564], area:[149,1709,687,2109],
  x:{min:-0.1,max:0.25,ticks:hXTicks,dec:2,minus:'-'}, y:{min:0,max:100,ticks:hYTicks,dec:0},
  datasets:[markDs(hPotential,hSel91,hM[1]), markDs(hPotential,hSel121,hM[0]), markDs(hPotential,hSel61,hM[2]), markDs(hPotential,hSel31,hM[3]), markDs(hPotential,hSel67,hM[4])],
  under:refLine(90,[10,6]),
  texts:[letter('h',46,1724), xTitle('Potential (V vs. RHE)',420,2176), yTitle('H_2O_2 Selectivity(%)',79,1910)],
  legend:{mode:'marker',mx:426,tx:452,ys:[1964,1991,2018,2046,2072],markers:hM}
});

// ================= panel i =================
const iM=markerSet([9,8,10,10,10],'#ffffff',2.5);
makePanel({
  box:[690,1640,700,564], area:[812,1708,1349,2108],
  x:{min:-0.1,max:0.25,ticks:iXTicks,dec:2,minus:'-'}, y:{min:1.5,max:4.0,ticks:iYTicks,dec:1},
  datasets:[markDs(iPotential,iN61,iM[2],2), markDs(iPotential,iN121,iM[0],3), markDs(iPotential,iN91,iM[1],3), markDs(iPotential,iN31,iM[3],3), markDs(iPotential,iN67,iM[4],3)],
  texts:[letter('i',735,1728), xTitle('Potential (V vs. RHE)',1080,2175), yTitle('Electron transfer number',739,1908)],
  legend:{mode:'line',mx:1103,tx:1129,ys:[1725,1752,1780,1807,1834],markers:iM}
});

// ================= panel j =================
const jM=markerSet([9,8,10,9,9],null,1.8);
makePanel({
  box:[1360,1640,688,564], area:[1469,1705,2013,2110],
  x:{min:-6.9,max:-5.4,ticks:jXTicks,dec:1,minus:'−'}, y:{min:0.40,max:0.55,ticks:jYTicks,dec:2},
  datasets:[
    fitDs(jFitX121,jFitY121,C121), fitDs(jFitX91,jFitY91,C91), fitDs(jFitX61,jFitY61,C61), fitDs(jFitX31,jFitY31,C31), fitDs(jFitX67,jFitY67,C67),
    Object.assign(markDs(jLogJ121,jE121,jM[0]),{order:1}), Object.assign(markDs(jLogJ91,jE91,jM[1]),{order:1}),
    Object.assign(markDs(jLogJ31,jE31,jM[3]),{order:1}), Object.assign(markDs(jLogJ61,jE61,jM[2]),{order:1}),
    Object.assign(markDs(jLogJ67,jE67,jM[4]),{order:1})
  ],
  texts:[letter('j',1374,1722), xTitle('Log j (mA cm^{-2})',1740,2182), yTitle('Potential (V vs. RHE)',1394,1907),
    note(jSlopes[1],1578,1779,C91,21), note(jSlopes[0],1830,1770,C121,21), note(jSlopes[2],1882,1871,C61,21),
    note(jSlopes[3],1934,1934,C31,21), note(jSlopes[4],1894,2003,C67,21)],
  legend:{mode:'text',tx:1487,ys:[1980,2008,2035,2063,2090]}
});
</script>
</body>
</html>
